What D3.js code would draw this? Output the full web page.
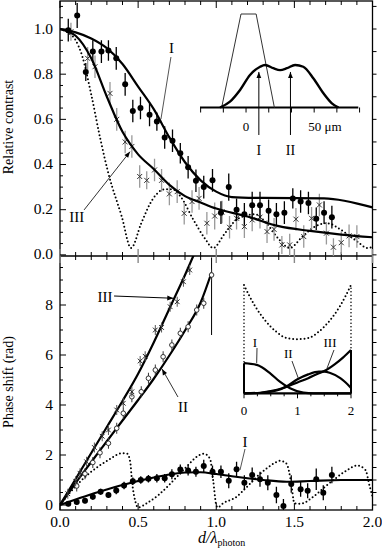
<!DOCTYPE html>
<html>
<head>
<meta charset="utf-8">
<script src="https://cdnjs.cloudflare.com/ajax/libs/d3/7.8.5/d3.min.js"></script>
<style>
  body { margin: 0; background: #fff; }
  svg { display: block; }
  text { font-family: "Liberation Serif", "Times New Roman", serif; fill: #000; }
</style>
</head>
<body>
<script>
// ---- values ----
var xTickVals = [0, 0.5, 1.0, 1.5, 2.0];
var xTickLabels = ["0.0", "0.5", "1.0", "1.5", "2.0"];
var contrastTickVals = [0, 0.2, 0.4, 0.6, 0.8, 1.0];
var contrastTickLabels = ["0.0", "0.2", "0.4", "0.6", "0.8", "1.0"];
var phaseTickVals = [0, 2, 4, 6, 8];

// top panel: [x, y, err]
var contrastDotsI = [
  [0.053,0.995,0.05],[0.11,1.06,0.055],[0.165,0.81,0.04],[0.21,0.90,0.05],[0.265,0.90,0.05],
  [0.31,0.905,0.045],[0.36,0.87,0.05],[0.417,0.755,0.05],[0.466,0.637,0.05],[0.515,0.65,0.05],
  [0.573,0.62,0.05],[0.62,0.59,0.04],[0.67,0.52,0.05],[0.72,0.505,0.05],[0.77,0.45,0.045],
  [0.82,0.388,0.05],[0.87,0.328,0.05],[0.92,0.30,0.05],[0.976,0.33,0.05],[1.03,0.187,0.05],
  [1.08,0.30,0.06],[1.13,0.20,0.05],[1.18,0.18,0.05],[1.23,0.22,0.06],[1.28,0.22,0.06],
  [1.335,0.195,0.05],[1.385,0.18,0.05],[1.436,0.187,0.05],[1.49,0.25,0.045],[1.54,0.236,0.05],
  [1.59,0.23,0.05],[1.64,0.16,0.05],[1.69,0.187,0.05],[1.74,0.167,0.05]
];
var contrastCrossIII = [
  [0.07,0.988,0.04],[0.177,0.87,0.05],[0.224,0.833,0.05],[0.32,0.715,0.05],[0.363,0.60,0.05],
  [0.417,0.50,0.05],[0.46,0.48,0.05],[0.51,0.347,0.05],[0.555,0.33,0.04],[0.605,0.376,0.05],
  [0.65,0.33,0.05],[0.70,0.27,0.05],[0.75,0.28,0.05],[0.795,0.184,0.05],[0.845,0.236,0.05],
  [0.89,0.25,0.05],[0.94,0.14,0.05],[0.99,0.172,0.06],[1.037,0.19,0.05],[1.085,0.122,0.05],
  [1.13,0.162,0.05],[1.18,0.125,0.05],[1.23,0.155,0.05],[1.28,0.167,0.05],[1.325,0.103,0.05],
  [1.37,0.113,0.05],[1.42,0.044,0.04],[1.47,0.044,0.05],[1.51,0.158,0.05],[1.56,0.081,0.05],
  [1.61,0.162,0.05],[1.66,0.221,0.05],[1.705,0.096,0.05],[1.75,0.034,0.04],[1.80,0.054,0.05],
  [1.85,0.084,0.05],[1.90,0.081,0.05]
];
var fitContrastI = [[0,1.0],[0.1,0.985],[0.2,0.958],[0.3,0.915],[0.4,0.845],[0.5,0.745],[0.6,0.645],
  [0.7,0.52],[0.8,0.41],[0.9,0.33],[1.0,0.28],[1.1,0.256],[1.3,0.252],[1.69,0.25],[2.0,0.21]];
var fitContrastIII = [[0,1.0],[0.1,0.97],[0.2,0.87],[0.3,0.70],[0.4,0.545],[0.45,0.49],[0.5,0.445],
  [0.6,0.38],[0.7,0.31],[0.8,0.26],[0.9,0.232],[1.0,0.205],[1.2,0.17],[1.4,0.127],[1.6,0.106],
  [1.8,0.09],[2.0,0.078]];
var contrastDotted = [[0,1.0],[0.05,0.985],[0.1,0.95],[0.14,0.885],[0.2,0.71],[0.256,0.52],[0.31,0.36],
  [0.395,0.17],[0.455,0.03],[0.52,0.14],[0.59,0.243],[0.67,0.29],[0.72,0.29],[0.77,0.26],[0.85,0.16],
  [0.93,0.07],[0.98,0.03],[1.05,0.09],[1.12,0.15],[1.2,0.175],[1.25,0.18],[1.32,0.14],[1.4,0.07],
  [1.47,0.03],[1.55,0.08],[1.63,0.125],[1.71,0.14],[1.8,0.11],[1.9,0.06],[1.97,0.03],[2.0,0.035]];

// bottom panel
var phaseDotsI = [
  [0.053,0.05,0.1],[0.107,0.12,0.1],[0.16,0.17,0.1],[0.21,0.33,0.12],[0.26,0.53,0.12],[0.31,0.4,0.12],
  [0.36,0.58,0.15],[0.41,0.78,0.15],[0.466,0.95,0.15],[0.517,1.0,0.15],[0.566,1.05,0.15],[0.62,1.07,0.17],
  [0.67,1.07,0.17],[0.716,1.23,0.2],[0.77,1.42,0.2],[0.82,1.38,0.2],[0.87,1.33,0.2],[0.92,1.56,0.25],
  [0.976,1.33,0.25],[1.03,1.33,0.25],[1.08,0.97,0.3],[1.13,1.43,0.3],[1.18,0.89,0.3],[1.23,1.2,0.3],
  [1.28,1.03,0.3],[1.33,0.89,0.3],[1.385,0.4,0.33],[1.43,-0.04,0.28],[1.48,0.84,0.35],[1.54,0.63,0.3],
  [1.585,0.57,0.3],[1.64,1.03,0.43],[1.685,0.49,0.3],[1.74,1.2,0.33]
];
var phasePtsII = [[0.107,0.76],[0.16,1.25],[0.21,1.7],[0.256,2.09],[0.31,2.47],[0.363,3.07],[0.405,3.67],
  [0.46,4.33],[0.52,4.53],[0.566,5.07],[0.61,5.4],[0.66,5.93],[0.716,6.4],[0.77,6.87],[0.82,7.13],
  [0.875,7.8],[0.92,8.07],[0.97,9.2]];
var phasePtsIII = [[0.05,0.45],[0.1,0.95],[0.128,1.27],[0.17,1.73],[0.22,2.3],[0.27,2.75],[0.31,3.0],
  [0.363,3.8],[0.405,4.07],[0.46,4.53],[0.513,5.76],[0.545,5.95],[0.61,7.0],[0.65,7.1],[0.705,7.93],
  [0.75,8.13],[0.79,8.93],[0.83,9.4]];
var phaseErrII = 0.22, phaseErrIII = 0.2;
var phaseBarII = [0.97, 6.8, 9.9];
var fitPhaseI = [[0,0],[0.1,0.22],[0.2,0.43],[0.3,0.62],[0.4,0.8],[0.5,0.96],[0.6,1.1],[0.7,1.22],[0.8,1.3],
  [0.9,1.31],[1.0,1.24],[1.1,1.15],[1.2,1.07],[1.3,1.0],[1.45,0.93],[1.6,0.96],[1.8,1.0],[2.0,1.0]];
var fitPhaseII = [[0,0],[0.1,0.88],[0.2,1.72],[0.3,2.55],[0.4,3.38],[0.5,4.2],[0.6,5.05],[0.7,5.98],
  [0.8,6.98],[0.9,8.1],[0.97,9.3]];
var fitPhaseIII = [[0,0],[0.1,1.04],[0.2,2.08],[0.3,3.12],[0.4,4.16],[0.5,5.25],[0.6,6.5],[0.7,7.85],
  [0.8,9.2],[0.87,10.2]];
var phaseDotted = [[0,0],[0.1,0.75],[0.2,1.33],[0.31,1.8],[0.395,2.07],[0.43,2.05],[0.45,1.7],[0.46,1.0],
  [0.48,0.2],[0.5,-0.1],[0.555,0.07],[0.63,0.4],[0.69,0.75],[0.76,1.2],[0.82,1.6],[0.88,1.95],[0.92,2.05],
  [0.96,1.85],[0.98,1.0],[1.0,0.0],[1.01,-0.1],[1.04,0.05],[1.13,0.33],[1.2,0.75],[1.26,1.13],[1.32,1.45],
  [1.37,1.67],[1.41,1.77],[1.45,1.65],[1.48,0.87],[1.5,0.07],[1.54,0.05],[1.62,0.33],[1.7,0.75],[1.75,1.0],
  [1.84,1.4],[1.9,1.58],[1.955,1.4],[1.98,0.8],[2.0,0.33]];

// top inset (micrometres, relative height)
var slitProfile = [[-17.9,0],[-3.7,1],[7.4,1],[20.8,0]];
var beamProfile = [[-19.1,0],[-11.8,0.062],[-4.4,0.187],[2.9,0.347],[10.3,0.436],[14,0.455],[20,0.42],
  [25,0.40],[30,0.42],[36,0.455],[42,0.436],[49.5,0.31],[56.8,0.152],[63,0.045],[67.9,0]];
var beamArrows = [9.4, 32.6];
var beamArrowLabels = ["I", "II"];

// bottom inset
var weightI = [[0,0.278],[0.24,0.262],[0.49,0.185],[0.67,0.107],[0.86,0.046],[1.11,0.006],[1.3,0],[2,0]];
var weightII = [[0,0],[0.3,0.005],[0.5,0.02],[0.7,0.045],[0.8,0.065],[1.0,0.13],[1.2,0.175],[1.4,0.2],
  [1.5,0.2],[1.6,0.19],[1.8,0.14],[1.9,0.1],[2.0,0.05]];
var weightIII = [[0,0],[0.3,0.003],[0.5,0.015],[0.7,0.04],[0.8,0.06],[1.0,0.1],[1.2,0.14],[1.4,0.185],
  [1.5,0.205],[1.7,0.27],[1.85,0.33],[2.0,0.4]];
var weightDotted = [[0,1.0],[0.1,0.9],[0.2,0.81],[0.4,0.67],[0.6,0.57],[0.8,0.51],[1.0,0.5],[1.2,0.51],
  [1.4,0.57],[1.6,0.67],[1.8,0.81],[1.9,0.9],[2.0,1.0]];
var insetTickLabels = ["0", "1", "2"];

// ---- drawing ----
var width = 382, height = 553;
var svg = d3.select("body").append("svg")
    .attr("width", width)
    .attr("height", height);

var x = d3.scaleLinear().domain([0, 2]).range([60, 372.5]);
var yC = d3.scaleLinear().domain([-0.005, 1.124]).range([256, 1]);
var yP = d3.scaleLinear().domain([-0.2, 9.96]).range([510, 256]);

var defs = svg.append("defs");
defs.append("clipPath").attr("id", "clipC").append("rect")
    .attr("x", x(0)).attr("y", yC(1.124))
    .attr("width", x(2) - x(0)).attr("height", yC(-0.005) - yC(1.124));
defs.append("clipPath").attr("id", "clipP").append("rect")
    .attr("x", x(0)).attr("y", yP(9.96))
    .attr("width", x(2) - x(0)).attr("height", yP(-0.2) - yP(9.96));
defs.append("marker").attr("id", "arr")
    .attr("viewBox", "0 0 10 10").attr("refX", 10).attr("refY", 5)
    .attr("markerWidth", 7).attr("markerHeight", 6)
    .attr("markerUnits", "userSpaceOnUse").attr("orient", "auto")
  .append("path").attr("d", "M0,1L10,5L0,9Z").attr("fill", "#000");

var lineC = d3.line().x(function(d){ return x(d[0]); }).y(function(d){ return yC(d[1]); }).curve(d3.curveMonotoneX);
var lineP = d3.line().x(function(d){ return x(d[0]); }).y(function(d){ return yP(d[1]); }).curve(d3.curveMonotoneX);

// frame + ticks
var ax = svg.append("g").attr("stroke", "#000").attr("stroke-width", 1).attr("fill", "none");
ax.append("rect").attr("x", x(0)).attr("y", yC(1.124))
    .attr("width", x(2) - x(0)).attr("height", yP(-0.2) - yC(1.124)).attr("stroke-width", 1.3);
ax.append("line").attr("x1", x(0)).attr("x2", x(2)).attr("y1", yC(-0.005)).attr("y2", yC(-0.005)).attr("stroke-width", 1.3);

d3.range(0, 21).forEach(function(i){
  var v = i / 10, major = (i % 5 === 0), px = x(v);
  var yt = yC(1.124), ym = yC(-0.005), yb = yP(-0.2);
  ax.append("line").attr("x1", px).attr("x2", px).attr("y1", yt).attr("y2", yt + (major ? 7 : 4));
  ax.append("line").attr("x1", px).attr("x2", px).attr("y1", yb).attr("y2", yb - (major ? 7 : 4));
  if (major) {
    ax.append("line").attr("x1", px).attr("x2", px).attr("y1", ym - 7).attr("y2", ym + 7).attr("stroke", "#888").attr("stroke-width", 1.4);
  } else {
    ax.append("line").attr("x1", px).attr("x2", px).attr("y1", ym - 4).attr("y2", ym + 4);
  }
});
d3.range(0, 23).forEach(function(i){
  var v = i * 0.05, py = yC(v);
  ax.append("line").attr("x1", x(0)).attr("x2", x(0) + (i % 4 === 0 ? 6 : 3)).attr("y1", py).attr("y2", py);
  if (i % 2 === 0) ax.append("line").attr("x1", x(2)).attr("x2", x(2) + 4).attr("y1", py).attr("y2", py);
});
d3.range(0, 20).forEach(function(i){
  var v = i * 0.5, py = yP(v);
  ax.append("line").attr("x1", x(0)).attr("x2", x(0) + (i % 4 === 0 ? 6 : 3)).attr("y1", py).attr("y2", py);
  ax.append("line").attr("x1", x(2)).attr("x2", x(2) + 4).attr("y1", py).attr("y2", py);
});

// tick labels
svg.selectAll(".xl").data(xTickVals).enter().append("text")
    .attr("x", function(d){ return x(d); }).attr("y", 527)
    .attr("text-anchor", "middle").attr("font-size", 15.5)
    .text(function(d, i){ return xTickLabels[i]; });
svg.selectAll(".yl").data(contrastTickVals).enter().append("text")
    .attr("x", 53).attr("y", function(d){ return yC(d) + 4.5; })
    .attr("text-anchor", "end").attr("font-size", 15.5)
    .text(function(d, i){ return contrastTickLabels[i]; });
svg.selectAll(".pl").data(phaseTickVals).enter().append("text")
    .attr("x", 53).attr("y", function(d){ return yP(d) + 5; })
    .attr("text-anchor", "end").attr("font-size", 15.5)
    .text(function(d){ return d; });

svg.append("text").attr("transform", "translate(13,127) rotate(-90)")
    .attr("text-anchor", "middle").attr("font-size", 14).text("Relative contrast");
svg.append("text").attr("transform", "translate(13,382) rotate(-90)")
    .attr("text-anchor", "middle").attr("font-size", 14).text("Phase shift (rad)");
var xt = svg.append("text").attr("x", 198).attr("y", 543).attr("font-size", 16);
xt.append("tspan").attr("font-style", "italic").text("d/λ");
xt.append("tspan").attr("font-size", 10).attr("dy", 3).text("photon");

// top panel
var gC = svg.append("g").attr("clip-path", "url(#clipC)");
gC.append("path").datum(contrastDotted).attr("d", lineC).attr("fill", "none")
    .attr("stroke", "#000").attr("stroke-width", 2).attr("stroke-linecap", "round").attr("stroke-dasharray", "0,3.8");
gC.selectAll(".eb3").data(contrastCrossIII).enter().append("line")
    .attr("x1", function(d){ return x(d[0]); }).attr("x2", function(d){ return x(d[0]); })
    .attr("y1", function(d){ return yC(d[1] - d[2]); }).attr("y2", function(d){ return yC(d[1] + d[2]); })
    .attr("stroke", "#999").attr("stroke-width", 1.3);
gC.selectAll(".cr3").data(contrastCrossIII).enter().append("path")
    .attr("transform", function(d){ return "translate(" + x(d[0]) + "," + yC(d[1]) + ")"; })
    .attr("d", d3.symbol(d3.symbolTimes, 18)).attr("fill", "none").attr("stroke", "#333").attr("stroke-width", 1);
gC.selectAll(".eb1").data(contrastDotsI).enter().append("line")
    .attr("x1", function(d){ return x(d[0]); }).attr("x2", function(d){ return x(d[0]); })
    .attr("y1", function(d){ return yC(d[1] - d[2]); }).attr("y2", function(d){ return yC(d[1] + d[2]); })
    .attr("stroke", "#000").attr("stroke-width", 1.3);
[fitContrastI, fitContrastIII].forEach(function(s){
  gC.append("path").datum(s).attr("d", lineC).attr("fill", "none").attr("stroke", "#000").attr("stroke-width", 2.2);
});
gC.selectAll(".d1").data(contrastDotsI).enter().append("circle")
    .attr("cx", function(d){ return x(d[0]); }).attr("cy", function(d){ return yC(d[1]); })
    .attr("r", 3).attr("fill", "#000");

// top annotations
svg.append("text").attr("x", x(0.714)).attr("y", yC(0.894)).attr("text-anchor", "middle").attr("font-size", 15).text("I");
svg.append("line").attr("x1", x(0.71)).attr("y1", yC(0.876)).attr("x2", x(0.646)).attr("y2", yC(0.601))
    .attr("stroke", "#555").attr("stroke-width", 1);
svg.append("text").attr("x", x(0.107)).attr("y", yC(0.146)).attr("text-anchor", "middle").attr("font-size", 15).text("III");
svg.append("line").attr("x1", x(0.154)).attr("y1", yC(0.199)).attr("x2", x(0.448)).attr("y2", yC(0.457))
    .attr("stroke", "#333").attr("stroke-width", 1).attr("marker-end", "url(#arr)");

// top inset
var xu = d3.scaleLinear().domain([-33.8, 82.4]).range([200, 358.3]);
var yu = d3.scaleLinear().domain([0, 1]).range([107.5, 14]);
var gu = svg.append("g");
gu.append("line").attr("x1", xu(-33.8)).attr("x2", xu(82.4)).attr("y1", yu(0)).attr("y2", yu(0))
    .attr("stroke", "#000").attr("stroke-width", 1.8);
d3.range(-2, 6).forEach(function(k){
  var v = k * 50 / 3;
  gu.append("line").attr("x1", xu(v)).attr("x2", xu(v)).attr("y1", yu(0)).attr("y2", yu(0) + 5)
      .attr("stroke", "#000").attr("stroke-width", 1);
});
gu.append("path").datum(slitProfile)
    .attr("d", d3.line().x(function(d){ return xu(d[0]); }).y(function(d){ return yu(d[1]); }))
    .attr("fill", "none").attr("stroke", "#333").attr("stroke-width", 1);
gu.append("path").datum(beamProfile)
    .attr("d", d3.line().x(function(d){ return xu(d[0]); }).y(function(d){ return yu(d[1]); }).curve(d3.curveMonotoneX))
    .attr("fill", "none").attr("stroke", "#000").attr("stroke-width", 2.4);
gu.selectAll(".ba").data(beamArrows).enter().append("line")
    .attr("x1", function(d){ return xu(d); }).attr("x2", function(d){ return xu(d); })
    .attr("y1", yu(-0.294)).attr("y2", yu(0.38))
    .attr("stroke", "#000").attr("stroke-width", 1).attr("marker-end", "url(#arr)");
gu.selectAll(".bl").data(beamArrows).enter().append("text")
    .attr("x", function(d){ return xu(d); }).attr("y", yu(-0.508))
    .attr("text-anchor", "middle").attr("font-size", 14)
    .text(function(d, i){ return beamArrowLabels[i]; });
gu.append("text").attr("x", xu(0)).attr("y", yu(-0.25)).attr("text-anchor", "middle").attr("font-size", 13).text("0");
gu.append("text").attr("x", xu(50) - 6).attr("y", yu(-0.25)).attr("font-size", 13).text("50 μm");

// bottom panel
var gP = svg.append("g").attr("clip-path", "url(#clipP)");
gP.append("path").datum(phaseDotted).attr("d", lineP).attr("fill", "none")
    .attr("stroke", "#000").attr("stroke-width", 2).attr("stroke-linecap", "round").attr("stroke-dasharray", "0,3.8");
[fitPhaseI, fitPhaseII, fitPhaseIII].forEach(function(s){
  gP.append("path").datum(s).attr("d", lineP).attr("fill", "none").attr("stroke", "#000").attr("stroke-width", 2.2);
});
gP.append("line").attr("x1", x(phaseBarII[0])).attr("x2", x(phaseBarII[0]))
    .attr("y1", yP(phaseBarII[1])).attr("y2", yP(phaseBarII[2])).attr("stroke", "#000").attr("stroke-width", 1);
gP.selectAll(".e2").data(phasePtsII).enter().append("line")
    .attr("x1", function(d){ return x(d[0]); }).attr("x2", function(d){ return x(d[0]); })
    .attr("y1", function(d){ return yP(d[1] - phaseErrII); }).attr("y2", function(d){ return yP(d[1] + phaseErrII); })
    .attr("stroke", "#333").attr("stroke-width", 1);
gP.selectAll(".o2").data(phasePtsII).enter().append("circle")
    .attr("cx", function(d){ return x(d[0]); }).attr("cy", function(d){ return yP(d[1]); })
    .attr("r", 2.3).attr("fill", "#fff").attr("stroke", "#333").attr("stroke-width", 1);
gP.selectAll(".e3").data(phasePtsIII).enter().append("line")
    .attr("x1", function(d){ return x(d[0]); }).attr("x2", function(d){ return x(d[0]); })
    .attr("y1", function(d){ return yP(d[1] - phaseErrIII); }).attr("y2", function(d){ return yP(d[1] + phaseErrIII); })
    .attr("stroke", "#555").attr("stroke-width", 1);
gP.selectAll(".s3").data(phasePtsIII).enter().append("path")
    .attr("transform", function(d){ return "translate(" + x(d[0]) + "," + yP(d[1]) + ")"; })
    .attr("d", d3.symbol(d3.symbolTimes, 16)).attr("fill", "none").attr("stroke", "#222").attr("stroke-width", 1);
gP.selectAll(".e1").data(phaseDotsI).enter().append("line")
    .attr("x1", function(d){ return x(d[0]); }).attr("x2", function(d){ return x(d[0]); })
    .attr("y1", function(d){ return yP(d[1] - d[2]); }).attr("y2", function(d){ return yP(d[1] + d[2]); })
    .attr("stroke", "#000").attr("stroke-width", 1.3);
gP.selectAll(".p1").data(phaseDotsI).enter().append("circle")
    .attr("cx", function(d){ return x(d[0]); }).attr("cy", function(d){ return yP(d[1]); })
    .attr("r", 3).attr("fill", "#000");

// bottom annotations
svg.append("text").attr("x", x(0.288)).attr("y", yP(8.14)).attr("text-anchor", "middle").attr("font-size", 15).text("III");
svg.append("line").attr("x1", x(0.346)).attr("y1", yP(8.36)).attr("x2", x(0.725)).attr("y2", yP(8.27))
    .attr("stroke", "#000").attr("stroke-width", 1).attr("marker-end", "url(#arr)");
svg.append("text").attr("x", x(0.787)).attr("y", yP(3.74)).attr("text-anchor", "middle").attr("font-size", 15).text("II");
svg.append("line").attr("x1", x(0.755)).attr("y1", yP(4.32)).attr("x2", x(0.653)).attr("y2", yP(5.44))
    .attr("stroke", "#333").attr("stroke-width", 1).attr("marker-end", "url(#arr)");
svg.append("text").attr("x", x(1.184)).attr("y", yP(2.34)).attr("text-anchor", "middle").attr("font-size", 15).text("I");
svg.append("line").attr("x1", x(1.184)).attr("y1", yP(2.24)).attr("x2", x(1.152)).attr("y2", yP(1.4))
    .attr("stroke", "#555").attr("stroke-width", 1);

// bottom inset
var xi = d3.scaleLinear().domain([0, 2]).range([244, 351]);
var yi = d3.scaleLinear().domain([0, 1]).range([393.3, 285]);
var lineI = d3.line().x(function(d){ return xi(d[0]); }).y(function(d){ return yi(d[1]); }).curve(d3.curveMonotoneX);
var gi = svg.append("g");
gi.append("path").datum(weightDotted).attr("d", lineI).attr("fill", "none")
    .attr("stroke", "#000").attr("stroke-width", 2).attr("stroke-linecap", "round").attr("stroke-dasharray", "0,3.8");
[0, 2].forEach(function(v){
  gi.append("line").attr("x1", xi(v)).attr("x2", xi(v)).attr("y1", yi(0)).attr("y2", yi(1))
      .attr("stroke", "#000").attr("stroke-width", 1.6).attr("stroke-linecap", "round").attr("stroke-dasharray", "0,3.5");
});
[weightI, weightII, weightIII].forEach(function(s){
  gi.append("path").datum(s).attr("d", lineI).attr("fill", "none").attr("stroke", "#000").attr("stroke-width", 2.2);
});
gi.append("line").attr("x1", xi(0)).attr("x2", xi(0)).attr("y1", yi(0)).attr("y2", yi(weightI[0][1]))
    .attr("stroke", "#000").attr("stroke-width", 2);
gi.append("line").attr("x1", xi(2)).attr("x2", xi(2)).attr("y1", yi(0)).attr("y2", yi(weightIII[weightIII.length - 1][1]))
    .attr("stroke", "#000").attr("stroke-width", 2);
gi.append("line").attr("x1", xi(0)).attr("x2", xi(2)).attr("y1", yi(0)).attr("y2", yi(0))
    .attr("stroke", "#000").attr("stroke-width", 2.2);
d3.range(0, 9).forEach(function(k){
  var v = k * 0.25;
  gi.append("line").attr("x1", xi(v)).attr("x2", xi(v)).attr("y1", yi(0)).attr("y2", yi(0) + (k % 4 === 0 ? 5 : 3))
      .attr("stroke", "#000").attr("stroke-width", 1);
});
gi.selectAll(".il").data([0, 1, 2]).enter().append("text")
    .attr("x", function(d){ return xi(d); }).attr("y", 414.5)
    .attr("text-anchor", "middle").attr("font-size", 13)
    .text(function(d, i){ return insetTickLabels[i]; });
gi.append("text").attr("x", xi(0.206)).attr("y", yi(0.432)).attr("text-anchor", "middle").attr("font-size", 13).text("I");
gi.append("line").attr("x1", xi(0.243)).attr("y1", yi(0.418)).attr("x2", xi(0.237)).attr("y2", yi(0.28))
    .attr("stroke", "#333").attr("stroke-width", 1);
gi.append("text").attr("x", xi(0.828)).attr("y", yi(0.326)).attr("text-anchor", "middle").attr("font-size", 13).text("II");
gi.append("line").attr("x1", xi(0.897)).attr("y1", yi(0.298)).attr("x2", xi(1.015)).attr("y2", yi(0.139))
    .attr("stroke", "#333").attr("stroke-width", 1);
gi.append("text").attr("x", xi(1.607)).attr("y", yi(0.432)).attr("text-anchor", "middle").attr("font-size", 13).text("III");
gi.append("line").attr("x1", xi(1.682)).attr("y1", yi(0.40)).attr("x2", xi(1.551)).attr("y2", yi(0.23))
    .attr("stroke", "#333").attr("stroke-width", 1);
</script>
</body>
</html>
